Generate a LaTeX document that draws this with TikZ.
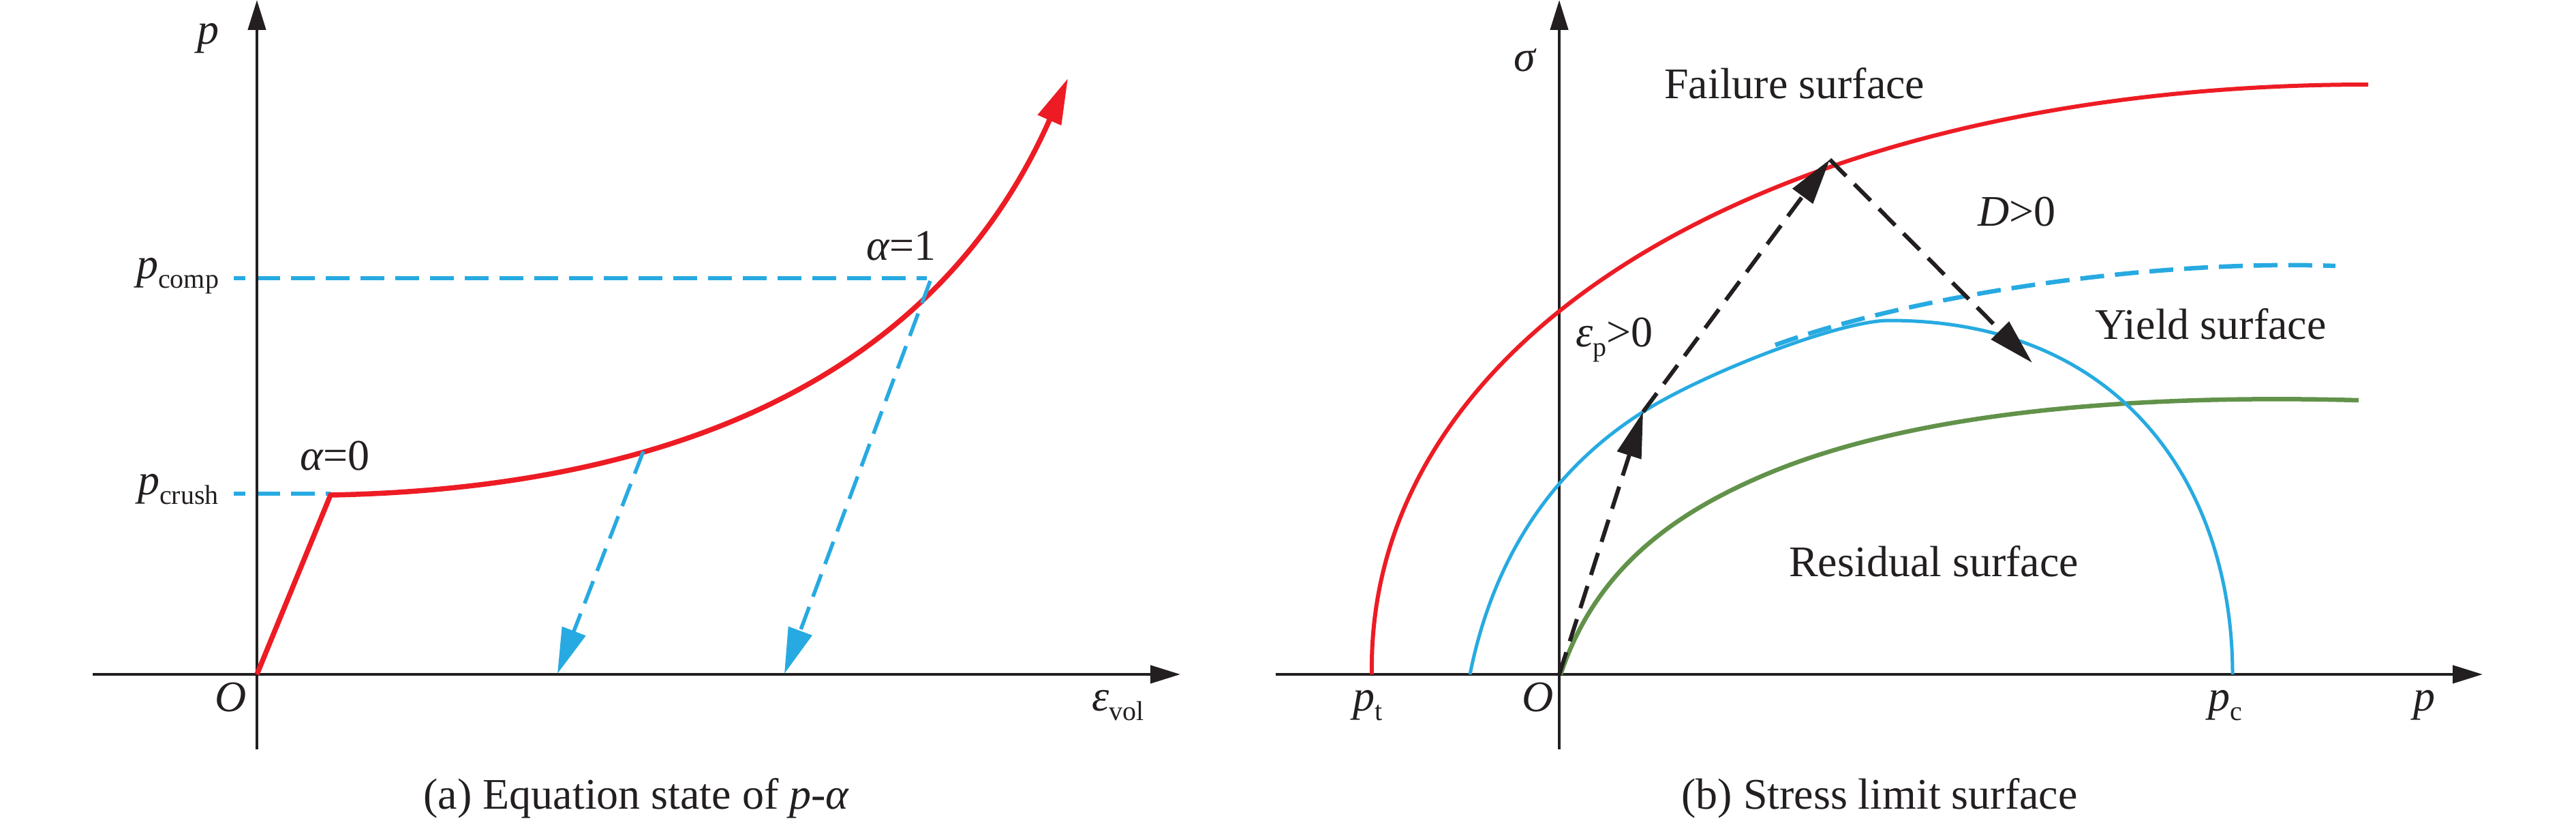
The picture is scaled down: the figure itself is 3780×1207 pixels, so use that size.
\documentclass[tikz,border=0pt]{standalone}
\usepackage{fontspec}
\setmainfont{Liberation Serif}
\usetikzlibrary{arrows.meta}
\definecolor{cred}{RGB}{237,28,36}
\definecolor{cblue}{RGB}{39,170,225}
\definecolor{cgreen}{RGB}{98,146,74}
\definecolor{cblack}{RGB}{35,31,32}
\newcommand{\lsub}[1]{\raisebox{-14pt}{\fontsize{40}{44}\selectfont #1}}
\begin{document}
\begin{tikzpicture}[x=1pt,y=-1pt,
  axis/.style={draw=cblack, line width=4.5pt, -{Triangle[length=44pt,width=26pt]}},
  redc/.style={draw=cred, line width=7.5pt, line join=round},
  redb/.style={draw=cred, line width=6pt},
  blueb/.style={draw=cblue, line width=5pt},
  greenb/.style={draw=cgreen, line width=6.5pt},
  bluedash/.style={draw=cblue, line width=5.5pt, dash pattern=on 35pt off 16pt},
  blkdash/.style={draw=cblack, line width=6pt, dash pattern=on 34pt off 17pt},
  bigtip/.style={-{Triangle[length=67pt,width=36pt]}},
  lbl/.style={font=\fontsize{64}{70}\selectfont, inner sep=0pt, text=cblack}]
\useasboundingbox[fill=white] (0,0) rectangle (3780,1207);

% ---------------- panel (a)
\coordinate (Oa) at (377,989);
\coordinate (xa0) at (136,989);
\coordinate (xa1) at (1732,989);
\coordinate (ya0) at (377,1099);
\coordinate (ya1) at (377,0);
\coordinate (crush) at (485,726);
\coordinate (atip) at (1567,115);
\coordinate (comp) at (1365,412);
\coordinate (mida) at (944,662);
\coordinate (dc0) at (343,724);
\coordinate (dc1) at (485,724);
\coordinate (dp0) at (343,408);
\coordinate (dp1) at (1360,408);
\coordinate (ba1) at (818,988);
\coordinate (ba2) at (1151,988);

\draw[bluedash, dash phase=18pt] (dc0) -- (dc1);
\draw[bluedash, dash phase=18pt] (dp0) -- (dp1);
\draw[axis] (xa0) -- (xa1);
\draw[axis] (ya0) -- (ya1);
\draw[redc, bigtip] (Oa) -- (crush) .. controls (900,718) and (1351,603) .. (atip);
\draw[bluedash, bigtip] (mida) -- (ba1);
\draw[bluedash, bigtip] (comp) -- (ba2);

\node[lbl, anchor=base] (pa) at (305,64) {\textit{p}};
\node[lbl, anchor=base west] (pcomp) at (200,408) {\textit{p}\lsub{comp}};
\node[lbl, anchor=base west] (pcrush) at (202,725) {\textit{p}\lsub{crush}};
\node[lbl, anchor=base west] (al0) at (440,689) {\textit{α}=0};
\node[lbl, anchor=base west] (al1) at (1271,381) {\textit{α}=1};
\node[lbl, anchor=base east] (Oalbl) at (362,1043) {\textit{O}};
\node[lbl, anchor=base west] (evol) at (1602,1042) {\textit{ε}\lsub{vol}};
\node[lbl, anchor=base] (capa) at (934,1186) {(a) Equation state of \textit{p}-\textit{α}};

% ---------------- panel (b)
\coordinate (Ob) at (2288,989);
\coordinate (xb0) at (1872,989);
\coordinate (xb1) at (3643,989);
\coordinate (yb0) at (2288,1099);
\coordinate (yb1) at (2288,0);
\coordinate (Pb1) at (2411,604);
\coordinate (Pb2) at (2685,234);
\coordinate (Pb3) at (2982,532);

\draw[axis] (xb0) -- (xb1);
\draw[axis] (yb0) -- (yb1);

% failure surface
\draw[redb] (2013,989) .. controls (2005,480) and (2620,124) .. (3475,124);
% residual surface
\draw[greenb] (2290,989) .. controls (2340,839) and (2449,758) .. (2579,701)
                         .. controls (2829,591) and (3200,580) .. (3461,587);
% yield surface (dashed extension)
\draw[bluedash, line width=6.5pt] (2605,506) .. controls (2800,435) and (3150,380) .. (3427,390);
% yield surface
\draw[blueb] (2157,989) .. controls (2192,814) and (2281,686) .. (2411,604)
                        .. controls (2501,547) and (2700,470) .. (2772,470)
                        .. controls (3120,470) and (3276,720) .. (3276,989);

\draw[blkdash, bigtip] (Ob) -- (Pb1);
\draw[blkdash, bigtip] (Pb1) -- (Pb2);
\draw[blkdash, bigtip] (Pb2) -- (Pb3);

\node[lbl, anchor=base] (sig) at (2238,104) {\textit{σ}};
\node[lbl, anchor=base west] (fail) at (2442,144) {Failure surface};
\node[lbl, anchor=base west] (Dlbl) at (2902,331) {\textit{D}>0};
\node[lbl, anchor=base west] (eplbl) at (2312,508) {\textit{ε}\lsub{p}>0};
\node[lbl, anchor=base west] (yield) at (3074,497) {Yield surface};
\node[lbl, anchor=base west] (resid) at (2625,845) {Residual surface};
\node[lbl, anchor=base west] (pt) at (1985,1042) {\textit{p}\lsub{t}};
\node[lbl, anchor=base west] (Oblbl) at (2233,1043) {\textit{O}};
\node[lbl, anchor=base west] (pc) at (3240,1042) {\textit{p}\lsub{c}};
\node[lbl, anchor=base west] (pb) at (3541,1042) {\textit{p}};
\node[lbl, anchor=base] (capb) at (2758,1186) {(b) Stress limit surface};
\end{tikzpicture}
\end{document}
